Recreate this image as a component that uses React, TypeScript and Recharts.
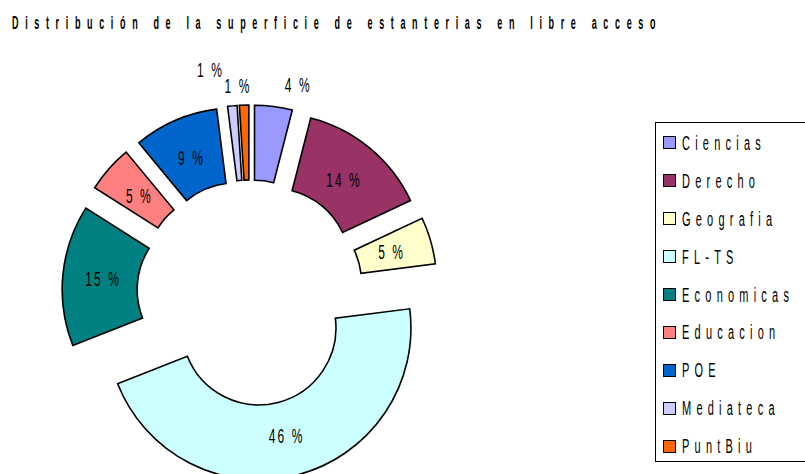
import { PieChart, Pie, Cell, Sector, Legend, Tooltip } from 'recharts';

const CATEGORIES = [
  'Ciencias',
  'Derecho',
  'Geografia',
  'FL-TS',
  'Economicas',
  'Educacion',
  'POE',
  'Mediateca',
  'PuntBiu',
];
const SHARES = [4, 14, 5, 46, 15, 5, 9, 1, 1];
const COLORS = [
  '#9999FF',
  '#993366',
  '#FFFFCC',
  '#CCFFFF',
  '#008080',
  '#FF8080',
  '#0066CC',
  '#CCCCFF',
  '#FF6600',
];

const FONT = "'Liberation Sans', Arial, sans-serif";
const EXPLODE = 36;
const RAD = Math.PI / 180;

// small slices get their label outside: [angle nudge, radius]
const OUTSIDE: Record<string, [number, number]> = {
  Ciencias: [-7, 178],
  Mediateca: [5.5, 191],
  PuntBiu: [1.8, 172],
};

const data = CATEGORIES.map((name, i) => ({ name, value: SHARES[i] }));

const shift = (cx: number, cy: number, r: number, angle: number) => ({
  x: cx + r * Math.cos(-angle * RAD),
  y: cy + r * Math.sin(-angle * RAD),
});

const ExplodedSector = (props: any) => {
  const { cx, cy, midAngle } = props;
  const c = shift(cx, cy, EXPLODE, midAngle);
  return <Sector {...props} cx={c.x} cy={c.y} />;
};

const renderLabel = (props: any) => {
  const { cx, cy, midAngle, innerRadius, outerRadius, percent, name } = props;
  const c = shift(cx, cy, EXPLODE, midAngle);
  const out = OUTSIDE[name];
  const p = out
    ? shift(c.x, c.y, out[1], midAngle + out[0])
    : shift(c.x, c.y, (innerRadius + outerRadius) / 2 - 3, midAngle);
  return (
    <text
      transform={`translate(${p.x},${p.y}) scale(0.6,1)`}
      x={0}
      y={0}
      textAnchor="middle"
      dominantBaseline="central"
      fill="#000"
      style={{ fontFamily: FONT, fontSize: 20, letterSpacing: 3.5 }}
    >
      {`${Math.round(percent * 100)} %`}
    </text>
  );
};

const renderLegend = (props: any) => {
  const items = [...props.payload].sort(
    (a: any, b: any) => CATEGORIES.indexOf(a.value) - CATEGORIES.indexOf(b.value),
  );
  return (
    <div
      style={{
        border: '1px solid #000',
        height: 340,
        boxSizing: 'border-box',
        padding: '1px 0 0 7px',
        background: '#fff',
      }}
    >
      {items.map((entry: any) => (
        <div
          key={entry.value}
          style={{ display: 'flex', alignItems: 'center', height: 37.9 }}
        >
          <span
            style={{
              width: 13,
              height: 13,
              border: '1.5px solid #000',
              background: entry.color,
              marginRight: 6,
              boxSizing: 'border-box',
              display: 'inline-block',
              flex: 'none',
            }}
          />
          <span
            style={{
              fontFamily: FONT,
              fontSize: 20,
              lineHeight: '20px',
              letterSpacing: 9.5,
              display: 'inline-block',
              whiteSpace: 'nowrap',
              transform: 'scaleX(0.55)',
              transformOrigin: 'left center',
            }}
          >
            {entry.value}
          </span>
        </div>
      ))}
    </div>
  );
};

export default function App() {
  return (
    <div style={{ position: 'relative', width: 805, height: 474, background: '#fff', overflow: 'hidden' }}>
      <style>{'body{margin:0}'}</style>
      <div
        style={{
          position: 'absolute',
          left: 12,
          top: 14,
          fontFamily: FONT,
          fontWeight: 'bold',
          fontSize: 18,
          lineHeight: '18px',
          letterSpacing: 13.3,
          whiteSpace: 'nowrap',
          transform: 'scaleX(0.5)',
          transformOrigin: 'left top',
        }}
      >
        Distribución de la superficie de estanterias en libre acceso
      </div>
      <PieChart width={805} height={474} margin={{ top: 0, right: 0, bottom: 0, left: 0 }}>
        <Pie
          data={data}
          dataKey="value"
          nameKey="name"
          cx={250}
          cy={293}
          innerRadius={77}
          outerRadius={152}
          startAngle={90}
          endAngle={-270}
          stroke="#000"
          strokeWidth={1.6}
          shape={ExplodedSector}
          activeShape={ExplodedSector}
          inactiveShape={ExplodedSector}
          label={renderLabel}
          labelLine={false}
          isAnimationActive={false}
        >
          {data.map((d, i) => (
            <Cell key={d.name} fill={COLORS[i]} />
          ))}
        </Pie>
        <Tooltip defaultIndex={0} active content={() => null} cursor={false} isAnimationActive={false} />
        <Legend
          layout="vertical"
          verticalAlign="top"
          align="right"
          itemSorter={(item: any) => CATEGORIES.indexOf(item.value)}
          content={renderLegend}
          wrapperStyle={{ position: 'absolute', left: 655, top: 122, width: 170 }}
        />
      </PieChart>
    </div>
  );
}
